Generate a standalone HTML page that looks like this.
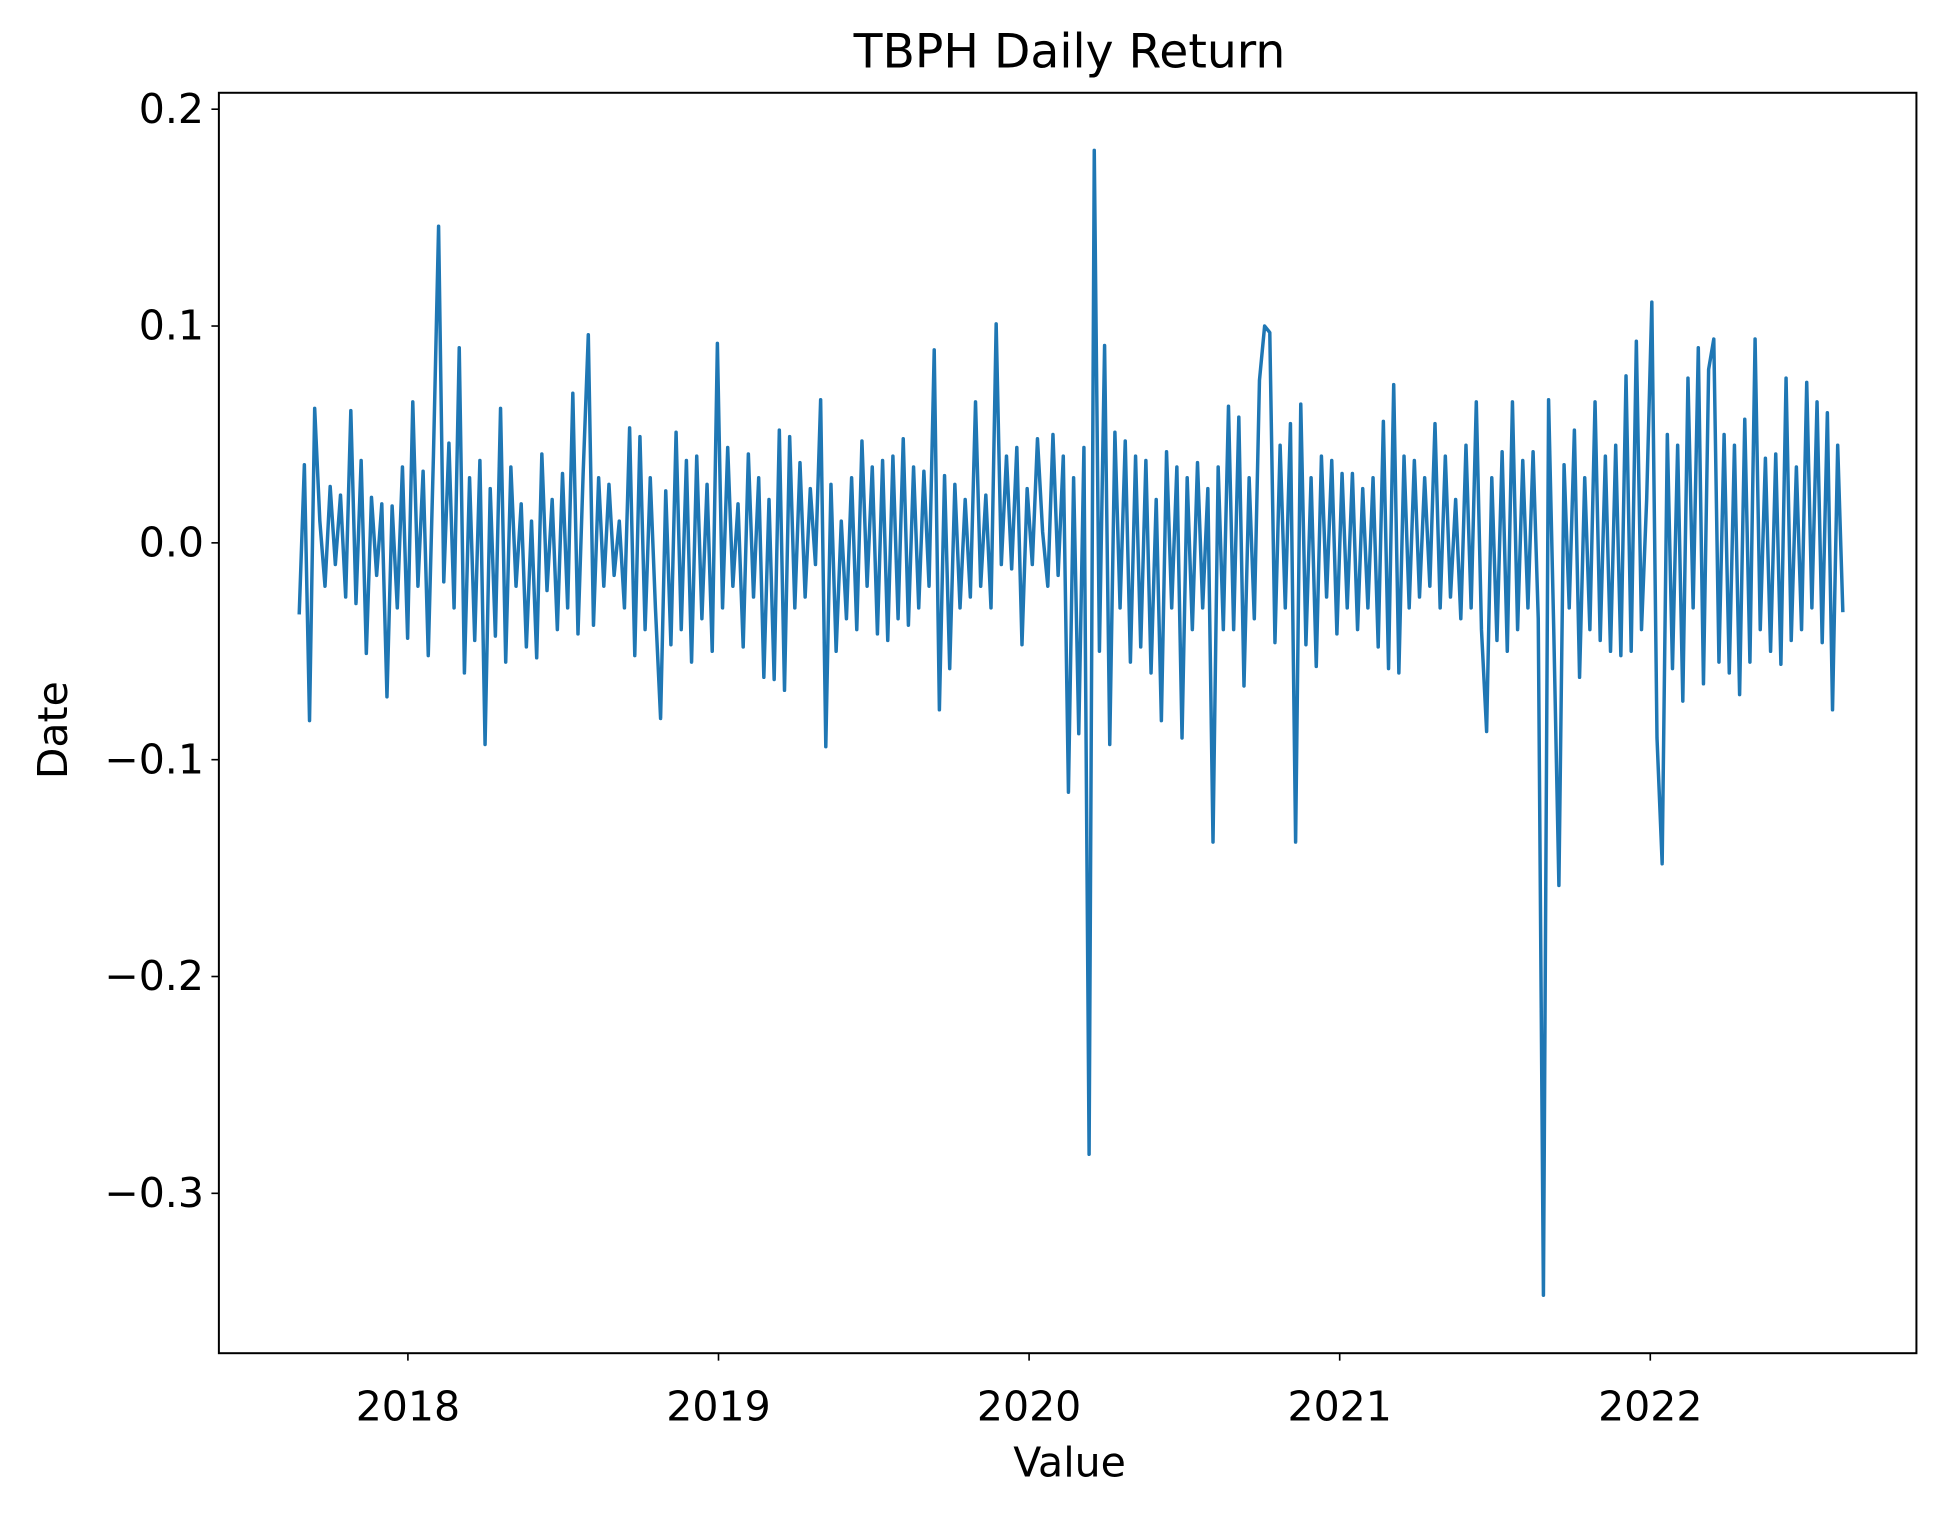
<!DOCTYPE html>
<html><head><meta charset="utf-8"><style>
html,body{margin:0;padding:0;background:#fff;}
svg{display:block;font-family:"DejaVu Sans","Liberation Sans",sans-serif;}
</style></head><body>
<svg id="chart" width="1950" height="1515" viewBox="0 0 1568 1218" xmlns="http://www.w3.org/2000/svg">
<rect width="1568" height="1218" fill="#fff"/>
<text x="860" y="54" font-size="38" text-anchor="middle">TBPH Daily Return</text>
<g id="yticks"></g>
<g id="xticks"></g>
<path id="series" fill="none" stroke="#1f77b4" stroke-width="2.8" stroke-linejoin="round"/>
<rect x="176" y="74.5" width="1365" height="1013.5" fill="none" stroke="#000" stroke-width="1.6"/>
<text x="860" y="1187" font-size="33" text-anchor="middle">Value</text>
<text transform="translate(54,587) rotate(-90)" font-size="33" text-anchor="middle">Date</text>
</svg>
<script>
const yTickValues = [0.2, 0.1, 0.0, -0.1, -0.2, -0.3];
const yTickLabels = ["0.2", "0.1", "0.0", "\u22120.1", "\u22120.2", "\u22120.3"];
const xTickYears = [2018, 2019, 2020, 2021, 2022];
const xTickLabels = ["2018", "2019", "2020", "2021", "2022"];
const startYear = 2017.65;
const endYear = 2022.62;
const returns = [
-0.033,0.036,-0.082,0.062,0.010,-0.020,0.026,-0.010,0.022,-0.025,0.061,-0.028,0.038,-0.051,0.021,-0.015,0.018,-0.071,0.017,-0.030,
0.035,-0.044,0.065,-0.020,0.033,-0.052,0.040,0.146,-0.018,0.046,-0.030,0.090,-0.060,0.030,-0.045,0.038,-0.093,0.025,-0.043,0.062,
-0.055,0.035,-0.020,0.018,-0.048,0.010,-0.053,0.041,-0.022,0.020,-0.040,0.032,-0.030,0.069,-0.042,0.032,0.096,-0.038,0.030,-0.020,
0.027,-0.015,0.010,-0.030,0.053,-0.052,0.049,-0.040,0.030,-0.030,-0.081,0.024,-0.047,0.051,-0.040,0.038,-0.055,0.040,-0.035,0.027,
-0.050,0.092,-0.030,0.044,-0.020,0.018,-0.048,0.041,-0.025,0.030,-0.062,0.020,-0.063,0.052,-0.068,0.049,-0.030,0.037,-0.025,0.025,
-0.010,0.066,-0.094,0.027,-0.050,0.010,-0.035,0.030,-0.040,0.047,-0.020,0.035,-0.042,0.038,-0.045,0.040,-0.035,0.048,-0.038,0.035,
-0.030,0.033,-0.020,0.089,-0.077,0.031,-0.058,0.027,-0.030,0.020,-0.025,0.065,-0.020,0.022,-0.030,0.101,-0.010,0.040,-0.012,0.044,
-0.047,0.025,-0.010,0.048,0.005,-0.020,0.050,-0.015,0.040,-0.115,0.030,-0.088,0.044,-0.282,0.181,-0.050,0.091,-0.093,0.051,-0.030,
0.047,-0.055,0.040,-0.048,0.038,-0.060,0.020,-0.082,0.042,-0.030,0.035,-0.090,0.030,-0.040,0.037,-0.030,0.025,-0.138,0.035,-0.040,
0.063,-0.040,0.058,-0.066,0.030,-0.035,0.075,0.100,0.097,-0.046,0.045,-0.030,0.055,-0.138,0.064,-0.047,0.030,-0.057,0.040,-0.025,
0.038,-0.042,0.032,-0.030,0.032,-0.040,0.025,-0.030,0.030,-0.048,0.056,-0.058,0.073,-0.060,0.040,-0.030,0.038,-0.025,0.030,-0.020,
0.055,-0.030,0.040,-0.025,0.020,-0.035,0.045,-0.030,0.065,-0.040,-0.087,0.030,-0.045,0.042,-0.050,0.065,-0.040,0.038,-0.030,0.042,
-0.035,-0.347,0.066,-0.040,-0.158,0.036,-0.030,0.052,-0.062,0.030,-0.040,0.065,-0.045,0.040,-0.050,0.045,-0.052,0.077,-0.050,0.093,
-0.040,0.020,0.111,-0.090,-0.148,0.050,-0.058,0.045,-0.073,0.076,-0.030,0.090,-0.065,0.080,0.094,-0.055,0.050,-0.060,0.045,-0.070,
0.057,-0.055,0.094,-0.040,0.039,-0.050,0.041,-0.056,0.076,-0.045,0.035,-0.040,0.074,-0.030,0.065,-0.046,0.060,-0.077,0.045,-0.032
];
function xScale(year){ return 328 + (year - 2018) * 249.75; }
function yScale(v){ return 436.4 - v * 1743.5; }
const NS = "http://www.w3.org/2000/svg";
const yg = document.getElementById('yticks');
yTickValues.forEach(function(v, i){
  const y = yScale(v);
  const l = document.createElementNS(NS, 'line');
  l.setAttribute('x1', 170); l.setAttribute('x2', 176); l.setAttribute('y1', y); l.setAttribute('y2', y);
  l.setAttribute('stroke', '#000'); l.setAttribute('stroke-width', '1.3');
  
  
  yg.appendChild(l);
  const t = document.createElementNS(NS, 'text');
  t.setAttribute('x', 164); t.setAttribute('y', y + 11);
  t.setAttribute('font-size', '33'); t.setAttribute('text-anchor', 'end');
  t.textContent = yTickLabels[i];
  
  
  yg.appendChild(t);
});
const xg = document.getElementById('xticks');
xTickYears.forEach(function(yr, i){
  const x = xScale(yr);
  const l = document.createElementNS(NS, 'line');
  l.setAttribute('x1', x); l.setAttribute('x2', x); l.setAttribute('y1', 1088); l.setAttribute('y2', 1094);
  l.setAttribute('stroke', '#000'); l.setAttribute('stroke-width', '1.3');
  
  
  xg.appendChild(l);
  const t = document.createElementNS(NS, 'text');
  t.setAttribute('x', x); t.setAttribute('y', 1142);
  t.setAttribute('font-size', '33'); t.setAttribute('text-anchor', 'middle');
  t.textContent = xTickLabels[i];
  
  
  xg.appendChild(t);
});
const step = (endYear - startYear) / (returns.length - 1);
let d = '';
returns.forEach(function(v, i){
  d += (i ? 'L' : 'M') + xScale(startYear + i * step).toFixed(2) + ',' + yScale(v).toFixed(2);
});
document.getElementById('series').setAttribute('d', d);
</script>
</body></html>
